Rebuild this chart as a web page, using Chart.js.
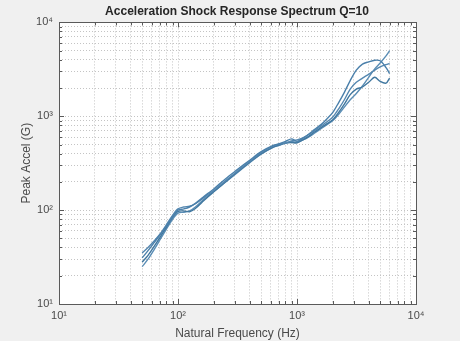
<!DOCTYPE html>
<html>
<head>
<meta charset="utf-8">
<script src="https://cdn.jsdelivr.net/npm/chart.js@4"></script>
<style>
  html, body { margin: 0; padding: 0; background: #f0f0f0; }
  #wrap { width: 460px; height: 341px; }
</style>
</head>
<body>
<div id="wrap"><canvas id="srsChart" width="460" height="341"></canvas></div>
<script>
// natural frequencies (Hz)
const freqs = [50, 56, 63, 71, 80, 90, 100, 112, 125, 140, 160, 180, 200, 250, 315, 400, 500, 630, 710, 800, 900, 1000,
    1120, 1250, 1400, 1600, 1800, 2000, 2240, 2500, 2800, 3150, 3550, 4000, 4500, 5000, 5600, 6000];

// peak accel (G), one array per measurement
const srs1 = [31, 37, 45, 55, 68, 85, 100, 103, 108, 118, 135, 152, 168, 215, 270, 340, 420, 490, 510, 540, 575, 540,
    580, 640, 720, 820, 950, 1100, 1400, 1800, 2400, 3100, 3600, 3800, 3950, 3900, 3300, 2850];
const srs2 = [35, 40, 47, 56, 70, 88, 103, 108, 110, 117, 132, 148, 162, 205, 260, 330, 410, 480, 505, 520, 545, 560,
    590, 640, 700, 790, 880, 980, 1200, 1500, 1950, 2300, 2550, 2800, 3100, 3350, 3550, 3650];
const srs3 = [28, 33, 41, 52, 66, 84, 97, 98, 96, 104, 122, 140, 157, 200, 255, 325, 400, 470, 495, 520, 525, 520,
    560, 610, 680, 760, 840, 920, 1100, 1350, 1700, 1950, 2050, 2300, 2600, 2350, 2250, 2550];
const srs4 = [25, 30, 38, 49, 63, 80, 93, 95, 98, 108, 126, 143, 158, 198, 250, 320, 395, 465, 490, 515, 535, 530,
    560, 600, 660, 740, 820, 900, 1050, 1250, 1500, 1750, 2100, 2600, 3200, 3700, 4400, 5000];

const lineColors = ['#4b80ab', '#5487b0', '#40779f', '#5a8db5'];

// axis limits and the decade labels
const axisMin = 10;
const axisMax = 10000;
const decadeLabels = { 10: '10\u00b9', 100: '10\u00b2', 1000: '10\u00b3', 10000: '10\u2074' };

// grid values 1..9 x 10^k between the limits
const gridVals = [];
for (let d = axisMin; d < axisMax; d *= 10) {
    for (let m = 1; m < 10; m++) gridVals.push(d * m);
}
gridVals.push(axisMax);

/*
 * fill plot area white, draw box and inward ticks like the original
 */
const boxPlugin = {
    id: 'boxPlugin',
    beforeDraw(chart) {
        const { ctx, chartArea: a } = chart;
        ctx.save();
        ctx.fillStyle = '#ffffff';
        ctx.fillRect(a.left, a.top, a.right - a.left, a.bottom - a.top);
        ctx.restore();
    },
    afterDraw(chart) {
        const { ctx, chartArea: a } = chart;
        const xs = chart.scales.x, ys = chart.scales.y;
        ctx.save();
        ctx.strokeStyle = '#5a5a5a';
        ctx.lineWidth = 1;
        ctx.beginPath();
        gridVals.forEach(v => {
            const len = decadeLabels[v] ? 5 : 3;
            const px = Math.round(xs.getPixelForValue(v)) + 0.5;
            ctx.moveTo(px, a.bottom); ctx.lineTo(px, a.bottom - len);
            ctx.moveTo(px, a.top); ctx.lineTo(px, a.top + len);
            const py = Math.round(ys.getPixelForValue(v)) + 0.5;
            ctx.moveTo(a.left, py); ctx.lineTo(a.left + len, py);
            ctx.moveTo(a.right, py); ctx.lineTo(a.right - len, py);
        });
        ctx.stroke();
        ctx.strokeRect(Math.round(a.left) + 0.5, Math.round(a.top) + 0.5,
            Math.round(a.right - a.left), Math.round(a.bottom - a.top));
        ctx.restore();
    }
};

const logAxis = (titleText, isX) => ({
    type: 'logarithmic',
    position: isX ? 'bottom' : 'left',
    min: axisMin,
    max: axisMax,
    afterBuildTicks: s => { s.ticks = gridVals.map(v => ({ value: v, major: !!decadeLabels[v] })); },
    afterFit: s => { if (isX) s.height = 37; else s.width = 45; },
    grid: { color: '#c4c4c4', lineWidth: 1, drawTicks: false },
    border: { display: false, dash: [1, 2] },
    ticks: {
        autoSkip: false,
        maxRotation: 0,
        padding: isX ? 5 : 6,
        color: '#4a4a4a',
        font: { family: 'Liberation Sans', size: 11 },
        callback: v => decadeLabels[v] || ''
    },
    title: {
        display: true,
        text: titleText,
        color: '#4a4a4a',
        font: { family: 'Liberation Sans', size: 12 },
        padding: isX ? { top: 0, bottom: 0 } : { top: 5, bottom: 0 }
    }
});

document.addEventListener('DOMContentLoaded', function () {
    const ctx = document.getElementById('srsChart').getContext('2d');
    const series = [srs1, srs2, srs3, srs4];

    new Chart(ctx, {
        type: 'line',
        data: {
            datasets: series.map((s, i) => ({
                data: freqs.map((f, j) => ({ x: f, y: s[j] })),
                borderColor: lineColors[i],
                borderWidth: 1.4,
                pointRadius: 0,
                tension: 0.3,
                fill: false
            }))
        },
        options: {
            responsive: false,
            animation: false,
            layout: { padding: { left: 14, right: 0, top: 0, bottom: 0 } },
            scales: {
                x: logAxis('Natural Frequency (Hz)', true),
                y: logAxis('Peak Accel (G)', false),
                // empty right-hand axis, only keeps the margin right of the plot
                yRight: {
                    type: 'linear',
                    position: 'right',
                    grid: { display: false, drawTicks: false },
                    border: { display: false },
                    ticks: { display: false },
                    afterFit: s => { s.width = 44; }
                }
            },
            plugins: {
                legend: { display: false },
                tooltip: { enabled: false },
                title: {
                    display: true,
                    text: 'Acceleration Shock Response Spectrum Q=10',
                    color: '#262626',
                    font: { family: 'Liberation Sans', size: 12, weight: 'bold' },
                    padding: { top: 4, bottom: 4 }
                }
            }
        },
        plugins: [boxPlugin]
    });
});
</script>
</body>
</html>
